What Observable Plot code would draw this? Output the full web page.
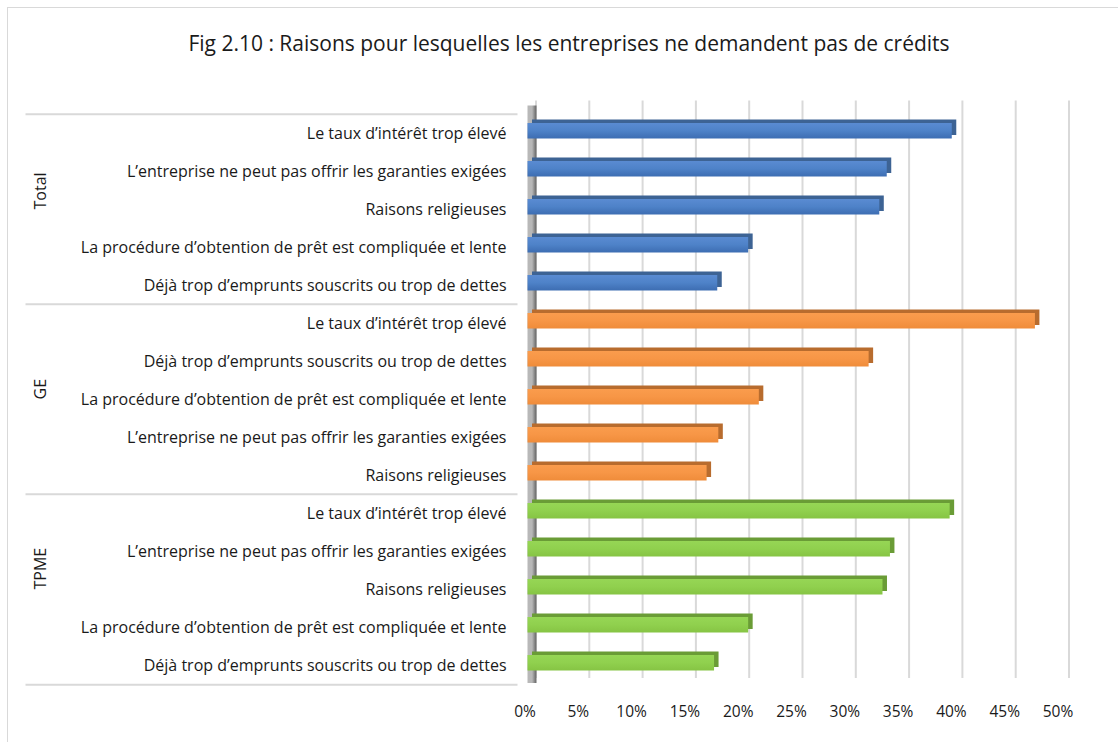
<!DOCTYPE html>
<html><head><meta charset="utf-8">
<script src="https://cdn.jsdelivr.net/npm/d3@7"></script>
<script src="https://cdn.jsdelivr.net/npm/@observablehq/plot@0.6"></script>
<style>
body{margin:0;background:#fff;font-family:"Open Sans",Lato,sans-serif;}
#wrap{position:relative;width:1118px;height:742px;overflow:hidden;background:#fff;}
#frame{position:absolute;left:7px;top:7px;width:1200px;height:800px;border:1.5px solid #d9d9d9;box-sizing:border-box;}
#title{position:absolute;left:10px;top:30px;width:1118px;text-align:center;font-size:21px;line-height:26px;color:#1a1a1a;}
#chart{position:absolute;left:0;top:90px;}
</style></head>
<body>
<div id="wrap">
  <div id="frame"></div>
  <div id="title">Fig 2.10 : Raisons pour lesquelles les entreprises ne demandent pas de crédits</div>
  <div id="chart"></div>
</div>
<script>
const groups = ["Total", "GE", "TPME"];
const totalCats = ["Le taux d’intérêt trop élevé", "L’entreprise ne peut pas offrir les garanties exigées", "Raisons religieuses", "La procédure d’obtention de prêt est compliquée et lente", "Déjà trop d’emprunts souscrits ou trop de dettes"];
const totalVals = [0.398, 0.337, 0.330, 0.207, 0.178];
const geCats = ["Le taux d’intérêt trop élevé", "Déjà trop d’emprunts souscrits ou trop de dettes", "La procédure d’obtention de prêt est compliquée et lente", "L’entreprise ne peut pas offrir les garanties exigées", "Raisons religieuses"];
const geVals = [0.476, 0.320, 0.217, 0.179, 0.168];
const tpmeCats = ["Le taux d’intérêt trop élevé", "L’entreprise ne peut pas offrir les garanties exigées", "Raisons religieuses", "La procédure d’obtention de prêt est compliquée et lente", "Déjà trop d’emprunts souscrits ou trop de dettes"];
const tpmeVals = [0.396, 0.340, 0.333, 0.207, 0.175];
const xTicks = [0, 0.05, 0.10, 0.15, 0.20, 0.25, 0.30, 0.35, 0.40, 0.45, 0.50];

const front = {Total: "url(#gTotal)", GE: "url(#gGE)", TPME: "url(#gTPME)"};
const side = {Total: "#3d6394", GE: "#b86c2e", TPME: "#6a9c36"};

const catsBy = {Total: totalCats, GE: geCats, TPME: tpmeCats};
const valsBy = {Total: totalVals, GE: geVals, TPME: tpmeVals};
const rows = [];
for (const g of groups) catsBy[g].forEach((c, i) => rows.push({group: g, cat: c, key: g + "|" + c, value: valsBy[g][i]}));
const keys = rows.map(d => d.key);
const groupRows = groups.map(g => ({name: g, first: g + "|" + catsBy[g][0], mid: g + "|" + catsBy[g][2], last: g + "|" + catsBy[g][4]}));

const W = 1118, H = 652, mL = 527.5, mR = 57.5, mT = 20.5, mB = 54;
const rowH = (H - mT - mB) / keys.length;
const FONT = "'Open Sans', Lato, sans-serif";

const barMarks = [];
for (const g of groups) {
  const data = rows.filter(d => d.group === g);
  barMarks.push(Plot.barX(data, {x: "value", y: "key", fill: side[g], insetTop: 9, insetBottom: 13.5, dx: 4.5, dy: -3.5}));
  barMarks.push(Plot.barX(data, {x: "value", y: "key", fill: front[g], insetTop: 9, insetBottom: 13.5}));
}

const chart = Plot.plot({
  width: W, height: H, marginLeft: mL, marginRight: mR, marginTop: mT, marginBottom: mB,
  x: {domain: [0, 0.5]},
  y: {domain: keys, padding: 0},
  style: {fontFamily: FONT, fontSize: "16px", color: "#1a1a1a", background: "transparent"},
  marks: [
    Plot.gridX(xTicks, {stroke: "#d9d9d9", strokeOpacity: 1, strokeWidth: 2, dx: 8, dy: -10}),
    Plot.ruleX([0], {stroke: "url(#wallG)", strokeWidth: 9, dx: 4, dy: -5}),
    ...barMarks,
    Plot.axisY(groupRows.map(d => d.first), {tickSize: 492, dx: -10, dy: -rowH / 2, tickFormat: () => "", label: null, stroke: "#d9d9d9", strokeWidth: 2, strokeOpacity: 1}),
    Plot.axisY(groupRows.slice(-1).map(d => d.last), {tickSize: 492, dx: -10, dy: rowH / 2, tickFormat: () => "", label: null, stroke: "#d9d9d9", strokeWidth: 2, strokeOpacity: 1}),
    Plot.axisY({tickSize: 0, tickPadding: 21.5, tickFormat: k => k.split("|")[1], label: null, fontSize: 16}),
    Plot.text(groupRows, {y: "mid", text: "name", frameAnchor: "left", dx: 40 - mL, rotate: -90, fontSize: 16, fill: "#1a1a1a"}),
    Plot.axisX(xTicks, {tickSize: 0, tickPadding: 17, tickFormat: d3.format(".0%"), label: null, dx: -3, fontSize: 15.5})
  ]
});

const defs = d3.select(chart).insert("defs", ":first-child");
function vgrad(id, stops) {
  const lg = defs.append("linearGradient").attr("id", id).attr("x1", 0).attr("y1", 0).attr("x2", 0).attr("y2", 1);
  stops.forEach(([o, c]) => lg.append("stop").attr("offset", o).attr("stop-color", c));
}
vgrad("gTotal", [[0, "#5a8bd2"], [0.5, "#4e82c8"], [1, "#3d6db2"]]);
vgrad("gGE", [[0, "#fa9c4d"], [0.5, "#f79646"], [1, "#ef8c3a"]]);
vgrad("gTPME", [[0, "#96d655"], [0.5, "#90d04e"], [1, "#86c444"]]);
const wg = defs.append("linearGradient").attr("id", "wallG").attr("gradientUnits", "userSpaceOnUse")
  .attr("x1", mL).attr("y1", 0).attr("x2", mL + 9).attr("y2", 0);
wg.append("stop").attr("offset", 0).attr("stop-color", "#b8b8b8");
wg.append("stop").attr("offset", 0.4).attr("stop-color", "#737373");
wg.append("stop").attr("offset", 1).attr("stop-color", "#555555");

document.getElementById("chart").appendChild(chart);
</script>
</body></html>
